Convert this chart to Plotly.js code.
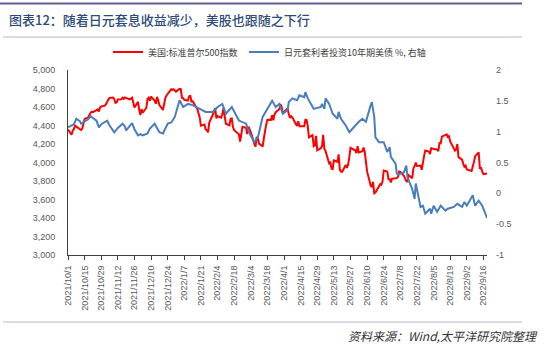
<!DOCTYPE html>
<html>
<head>
<meta charset="utf-8">
<script src="https://cdn.plot.ly/plotly-3.0.1.min.js"></script>
<style>
html,body{margin:0;padding:0;background:#fff;}
#chart{width:550px;height:348px;}
</style>
</head>
<body>
<div id="chart"></div>
<script>
// ---- Data ----
const spxDates = ['2021-10-01','2021-10-04','2021-10-05','2021-10-06','2021-10-07','2021-10-08','2021-10-11','2021-10-12','2021-10-13','2021-10-14','2021-10-15','2021-10-18','2021-10-19','2021-10-20','2021-10-21','2021-10-22','2021-10-25','2021-10-26','2021-10-27','2021-10-28','2021-10-29','2021-11-01','2021-11-02','2021-11-03','2021-11-04','2021-11-05','2021-11-08','2021-11-09','2021-11-10','2021-11-11','2021-11-12','2021-11-15','2021-11-16','2021-11-17','2021-11-18','2021-11-19','2021-11-22','2021-11-23','2021-11-24','2021-11-26','2021-11-29','2021-11-30','2021-12-01','2021-12-02','2021-12-03','2021-12-06','2021-12-07','2021-12-08','2021-12-09','2021-12-10','2021-12-13','2021-12-14','2021-12-15','2021-12-16','2021-12-17','2021-12-20','2021-12-21','2021-12-22','2021-12-23','2021-12-27','2021-12-28','2021-12-29','2021-12-30','2021-12-31','2022-01-03','2022-01-04','2022-01-05','2022-01-06','2022-01-07','2022-01-10','2022-01-11','2022-01-12','2022-01-13','2022-01-14','2022-01-18','2022-01-19','2022-01-20','2022-01-21','2022-01-24','2022-01-25','2022-01-26','2022-01-27','2022-01-28','2022-01-31','2022-02-01','2022-02-02','2022-02-03','2022-02-04','2022-02-07','2022-02-08','2022-02-09','2022-02-10','2022-02-11','2022-02-14','2022-02-15','2022-02-16','2022-02-17','2022-02-18','2022-02-22','2022-02-23','2022-02-24','2022-02-25','2022-02-28','2022-03-01','2022-03-02','2022-03-03','2022-03-04','2022-03-07','2022-03-08','2022-03-09','2022-03-10','2022-03-11','2022-03-14','2022-03-15','2022-03-16','2022-03-17','2022-03-18','2022-03-21','2022-03-22','2022-03-23','2022-03-24','2022-03-25','2022-03-28','2022-03-29','2022-03-30','2022-03-31','2022-04-01','2022-04-04','2022-04-05','2022-04-06','2022-04-07','2022-04-08','2022-04-11','2022-04-12','2022-04-13','2022-04-14','2022-04-18','2022-04-19','2022-04-20','2022-04-21','2022-04-22','2022-04-25','2022-04-26','2022-04-27','2022-04-28','2022-04-29','2022-05-02','2022-05-03','2022-05-04','2022-05-05','2022-05-06','2022-05-09','2022-05-10','2022-05-11','2022-05-12','2022-05-13','2022-05-16','2022-05-17','2022-05-18','2022-05-19','2022-05-20','2022-05-23','2022-05-24','2022-05-25','2022-05-26','2022-05-27','2022-05-31','2022-06-01','2022-06-02','2022-06-03','2022-06-06','2022-06-07','2022-06-08','2022-06-09','2022-06-10','2022-06-13','2022-06-14','2022-06-15','2022-06-16','2022-06-17','2022-06-21','2022-06-22','2022-06-23','2022-06-24','2022-06-27','2022-06-28','2022-06-29','2022-06-30','2022-07-01','2022-07-05','2022-07-06','2022-07-07','2022-07-08','2022-07-11','2022-07-12','2022-07-13','2022-07-14','2022-07-15','2022-07-18','2022-07-19','2022-07-20','2022-07-21','2022-07-22','2022-07-25','2022-07-26','2022-07-27','2022-07-28','2022-07-29','2022-08-01','2022-08-02','2022-08-03','2022-08-04','2022-08-05','2022-08-08','2022-08-09','2022-08-10','2022-08-11','2022-08-12','2022-08-15','2022-08-16','2022-08-17','2022-08-18','2022-08-19','2022-08-22','2022-08-23','2022-08-24','2022-08-25','2022-08-26','2022-08-29','2022-08-30','2022-08-31','2022-09-01','2022-09-02','2022-09-06','2022-09-07','2022-09-08','2022-09-09','2022-09-12','2022-09-13','2022-09-14','2022-09-15','2022-09-16','2022-09-19'];
const spxValues = [4357,4300,4345,4363,4399,4391,4361,4351,4364,4438,4471,4486,4520,4537,4549,4545,4567,4575,4552,4596,4605,4614,4631,4660,4680,4697,4702,4685,4646,4649,4682,4683,4701,4689,4704,4698,4682,4691,4701,4595,4655,4567,4513,4577,4538,4592,4687,4701,4668,4712,4669,4635,4710,4669,4621,4568,4649,4697,4725,4791,4786,4793,4778,4766,4797,4794,4701,4696,4677,4670,4713,4726,4660,4663,4577,4533,4483,4398,4410,4357,4350,4326,4432,4516,4546,4589,4477,4501,4484,4522,4587,4504,4419,4402,4472,4475,4380,4349,4305,4225,4288,4385,4374,4306,4387,4363,4329,4201,4171,4278,4260,4204,4173,4262,4358,4412,4463,4461,4512,4456,4520,4543,4575,4632,4602,4530,4546,4583,4525,4481,4500,4488,4413,4397,4447,4392,4391,4463,4459,4394,4272,4296,4175,4184,4288,4132,4155,4175,4300,4147,4123,3991,4001,3935,3930,4023,4008,4088,3923,3901,3901,3974,3941,3979,4058,4158,4132,4101,4177,4109,4121,4161,4116,4018,3901,3750,3735,3790,3667,3675,3765,3760,3796,3912,3901,3821,3819,3785,3825,3831,3845,3903,3899,3855,3819,3802,3790,3863,3831,3937,3960,3999,3962,3967,3921,4024,4072,4130,4119,4091,4155,4152,4145,4140,4122,4210,4208,4280,4297,4305,4275,4284,4228,4138,4128,4141,4199,4058,4031,3986,3955,3967,3924,3908,3980,4006,4067,4110,3932,3946,3901,3873,3880];

const carryDates = ['2021-10-01','2021-10-06','2021-10-08','2021-10-11','2021-10-12','2021-10-15','2021-10-18','2021-10-20','2021-10-22','2021-10-25','2021-10-27','2021-10-29','2021-11-03','2021-11-05','2021-11-09','2021-11-12','2021-11-16','2021-11-18','2021-11-19','2021-11-22','2021-11-24','2021-11-26','2021-11-29','2021-12-01','2021-12-03','2021-12-07','2021-12-09','2021-12-13','2021-12-15','2021-12-17','2021-12-20','2021-12-22','2021-12-24','2021-12-27','2021-12-30','2022-01-03','2022-01-06','2022-01-10','2022-01-14','2022-01-20','2022-01-25','2022-01-31','2022-02-04','2022-02-08','2022-02-11','2022-02-16','2022-02-22','2022-02-28','2022-03-03','2022-03-07','2022-03-10','2022-03-14','2022-03-18','2022-03-22','2022-03-25','2022-03-28','2022-03-31','2022-04-04','2022-04-05','2022-04-08','2022-04-12','2022-04-14','2022-04-18','2022-04-19','2022-04-21','2022-04-26','2022-05-02','2022-05-03','2022-05-05','2022-05-06','2022-05-09','2022-05-12','2022-05-16','2022-05-17','2022-05-19','2022-05-23','2022-05-26','2022-05-31','2022-06-03','2022-06-06','2022-06-09','2022-06-13','2022-06-14','2022-06-16','2022-06-17','2022-06-20','2022-06-24','2022-06-27','2022-06-29','2022-06-30','2022-07-04','2022-07-05','2022-07-07','2022-07-11','2022-07-13','2022-07-14','2022-07-18','2022-07-20','2022-07-21','2022-07-25','2022-07-27','2022-07-29','2022-08-02','2022-08-03','2022-08-05','2022-08-08','2022-08-11','2022-08-15','2022-08-17','2022-08-22','2022-08-25','2022-08-29','2022-08-31','2022-09-02','2022-09-07','2022-09-09','2022-09-12','2022-09-15','2022-09-16','2022-09-19'];
const carryValues = [1.07,1.12,1.21,1.17,1.13,1.16,1.20,1.25,1.22,1.18,1.07,1.12,1.18,1.10,0.99,1.06,1.13,1.08,1.02,1.10,1.14,1.04,0.94,0.96,0.94,0.97,1.05,1.13,1.05,0.99,0.97,1.05,1.13,1.15,1.24,1.51,1.40,1.45,1.43,1.37,1.32,1.32,1.40,1.45,1.29,1.40,1.18,1.13,0.97,0.83,0.91,1.24,1.38,1.50,1.40,1.45,1.29,1.35,1.48,1.54,1.51,1.59,1.56,1.64,1.54,1.37,1.40,1.45,1.37,1.54,1.45,1.29,1.21,1.32,1.21,1.10,0.99,1.10,1.16,1.21,1.16,1.43,1.48,1.24,0.91,0.83,0.83,0.67,0.75,0.59,0.48,0.32,0.31,0.34,0.45,0.26,0.07,-0.09,0.16,-0.22,-0.20,-0.33,-0.25,-0.33,-0.20,-0.30,-0.20,-0.28,-0.25,-0.22,-0.17,-0.22,-0.14,-0.20,-0.03,-0.20,-0.12,-0.20,-0.25,-0.40];

const xTickLabels = ['2021/10/1','2021/10/15','2021/10/29','2021/11/12','2021/11/26','2021/12/10','2021/12/24','2022/1/7','2022/1/21','2022/2/4','2022/2/18','2022/3/4','2022/3/18','2022/4/1','2022/4/15','2022/4/29','2022/5/13','2022/5/27','2022/6/10','2022/6/24','2022/7/8','2022/7/22','2022/8/5','2022/8/19','2022/9/2','2022/9/16'];
const rightTickVals = [-1,-0.5,0,0.5,1,1.5,2];
const rightTickText = ['-1','-0.5','0','0.5','1','1.5','2'];

const seriesNames = ['美国:标准普尔500指数','日元套利者投资10年期美债 %, 右轴'];
const titleText = '图表12：随着日元套息收益减少，美股也跟随之下行';
const sourceText = '资料来源：Wind,太平洋研究院整理';

// ---- Build ----
function toIso(s){const p=s.split('/');return p[0]+'-'+p[1].padStart(2,'0')+'-'+p[2].padStart(2,'0');}
const xTickVals = xTickLabels.map(toIso);

const W=550,H=348,L=68,R=63,T=70,B=93;
const pw=W-L-R, ph=H-T-B;
const px=x=>(x-L)/pw, py=y=>(H-B-y)/ph;

const cjk = '"Noto Sans CJK SC", sans-serif';
const tickFont = {family:'"Liberation Sans", Arial, sans-serif', size:9, color:'#595959'};
const legendFont = {family:cjk, size:9, color:'#404040'};

const traces = [
  {x:spxDates, y:spxValues, type:'scatter', mode:'lines', name:seriesNames[0],
   line:{color:'#ff0000', width:2}, yaxis:'y', legend:'legend'},
  {x:carryDates, y:carryValues, type:'scatter', mode:'lines', name:seriesNames[1],
   line:{color:'#4a7ebb', width:2}, yaxis:'y2', legend:'legend2'}
];

const layout = {
  width:W, height:H,
  margin:{l:L, r:R, t:T, b:B, pad:0},
  paper_bgcolor:'#ffffff', plot_bgcolor:'#ffffff',
  showlegend:true,
  title:{text:titleText, x:9/W, xanchor:'left', xref:'container', y:1-20/H, yref:'container', yanchor:'middle',
         font:{family:cjk, size:13, color:'#2e4a78', weight:500}},
  legend:{orientation:'h', x:px(108), xanchor:'left', y:py(52), yanchor:'middle',
          font:legendFont, itemwidth:30, bgcolor:'rgba(0,0,0,0)'},
  legend2:{orientation:'h', x:px(244), xanchor:'left', y:py(52), yanchor:'middle',
          font:legendFont, itemwidth:30, bgcolor:'rgba(0,0,0,0)'},
  xaxis:{type:'date', range:['2021-10-01','2022-09-19'], tickmode:'array', tickvals:xTickVals, ticktext:xTickLabels,
         tickangle:-90, tickfont:tickFont, ticks:'outside', ticklen:4, tickcolor:'#404040', tickwidth:1,
         showline:true, linecolor:'#404040', linewidth:1, showgrid:false, zeroline:false, ticklabelstandoff:2},
  yaxis:{range:[3000,5000], dtick:200, tick0:3000, tickformat:',', tickfont:tickFont, showgrid:false, zeroline:false,
         showline:true, linecolor:'#404040', linewidth:1, ticks:'', ticklabelstandoff:10},
  yaxis2:{range:[-1,2], overlaying:'y', side:'right', tickmode:'array', tickvals:rightTickVals, ticktext:rightTickText,
          tickfont:tickFont, showgrid:false, zeroline:false, showline:false, ticks:'', ticklabelstandoff:8},
  shapes:[
    {type:'line', xref:'paper', yref:'paper', x0:px(0), x1:px(522), y0:py(3.5), y1:py(3.5), line:{color:'#5e5e92', width:2}},
    {type:'line', xref:'paper', yref:'paper', x0:px(3), x1:px(522), y0:py(37), y1:py(37), line:{color:'#b8b8d2', width:1}},
    {type:'line', xref:'paper', yref:'paper', x0:px(3), x1:px(522), y0:py(322), y1:py(322), line:{color:'#b8b8d2', width:1}}
  ],
  annotations:[
    {text:'<i>'+sourceText+'</i>', xref:'paper', yref:'paper', x:px(540), y:py(335), xanchor:'right', yanchor:'middle',
     showarrow:false, font:{family:cjk, size:12, color:'#333333'}}
  ]
};

Plotly.newPlot('chart', traces, layout, {displayModeBar:false, staticPlot:true});
</script>
</body>
</html>
